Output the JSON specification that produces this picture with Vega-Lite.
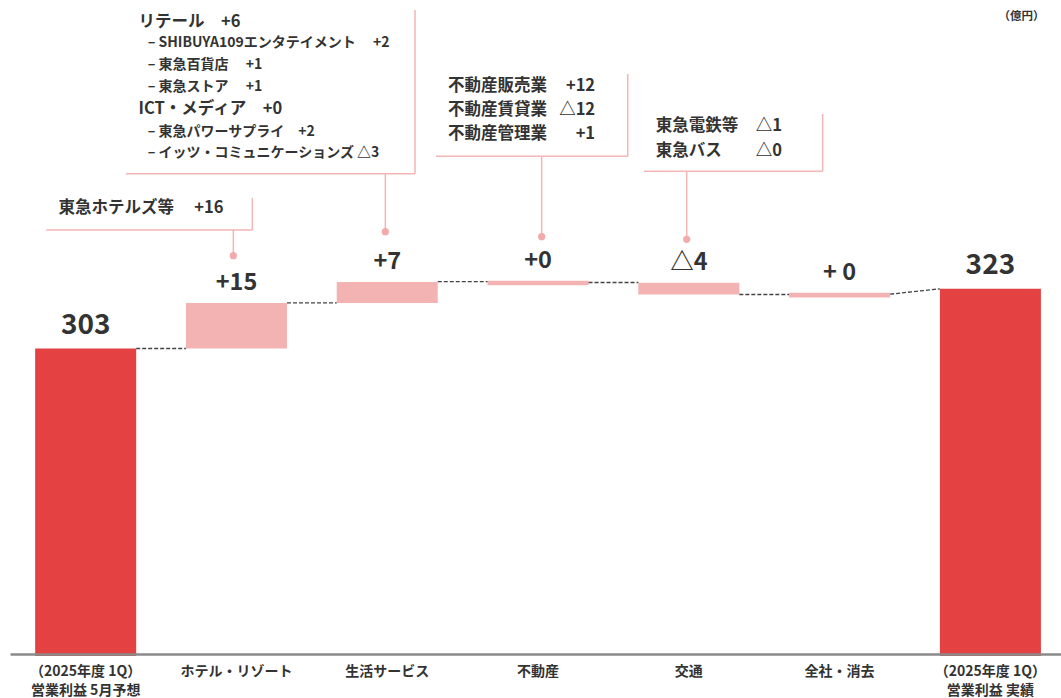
{
  "$schema": "https://vega.github.io/schema/vega-lite/v6.json",
  "width": 1051,
  "height": 656,
  "autosize": {"type": "none"},
  "padding": {"left": 10, "right": 0, "top": 0, "bottom": 42},
  "config": {
    "font": "Noto Sans CJK JP",
    "view": {"stroke": null},
    "text": {"font": "Noto Sans CJK JP", "fontWeight": "bold", "color": "#333333"}
  },
  "data": {
    "values": [
      {"cat": "（2025年度 1Q）\n営業利益 5月予想", "kind": "total", "low": 200, "high": 302.5, "label": "303"},
      {"cat": "ホテル・リゾート", "kind": "change", "low": 302.5, "high": 317.7, "label": "+15"},
      {"cat": "生活サービス", "kind": "change", "low": 317.7, "high": 324.7, "label": "+7"},
      {"cat": "不動産", "kind": "change", "low": 323.6, "high": 325.1, "label": "+0"},
      {"cat": "交通", "kind": "change", "low": 320.5, "high": 324.4, "label": "△4"},
      {"cat": "全社・消去", "kind": "change", "low": 319.5, "high": 321.1, "label": "+ 0"},
      {"cat": "（2025年度 1Q）\n営業利益 実績", "kind": "total", "low": 200, "high": 322.4, "label": "323"}
    ]
  },
  "layer": [
    {
      "mark": {"type": "bar"},
      "encoding": {
        "x": {
          "field": "cat", "type": "nominal", "sort": null,
          "scale": {
            "type": "band",
            "domain": ["（2025年度 1Q）\n営業利益 5月予想", "ホテル・リゾート", "生活サービス", "不動産", "交通", "全社・消去", "（2025年度 1Q）\n営業利益 実績"],
            "paddingInner": 0.33, "paddingOuter": 0.15, "align": 0.556
          },
          "axis": {
            "title": null, "labelAngle": 0, "ticks": false, "tickSize": 0,
            "domainColor": "#8a8a8a", "domainWidth": 2.5, "offset": -2, "zindex": 1,
            "labelFontSize": 14, "labelFontWeight": "bold", "labelColor": "#333333",
            "labelFont": "Noto Sans CJK JP", "labelPadding": 10, "labelLineHeight": 19.5,
            "labelExpr": "split(datum.label, '\\n')", "grid": false
          }
        },
        "y": {
          "field": "low", "type": "quantitative",
          "scale": {"domain": [200, 418.667], "nice": false, "zero": false},
          "axis": {
            "orient": "right", "title": "（億円）", "labels": false, "ticks": false, "domain": false, "grid": false,
            "titleAngle": 0, "titleX": -40, "titleY": 16, "titleAlign": "center", "titleBaseline": "middle",
            "titleFontSize": 11.5, "titleFontWeight": "bold", "titleColor": "#333333", "titleFont": "Noto Sans CJK JP"
          }
        },
        "y2": {"field": "high"},
        "color": {
          "field": "kind", "type": "nominal",
          "scale": {"domain": ["total", "change"], "range": ["#E34142", "#F3B3B3"]},
          "legend": null
        }
      }
    },
    {
      "data": {
        "values": [
          {"from": "（2025年度 1Q）\n営業利益 5月予想", "to": "ホテル・リゾート", "y": 302.5, "y2": 302.5},
          {"from": "ホテル・リゾート", "to": "生活サービス", "y": 317.7, "y2": 317.7},
          {"from": "生活サービス", "to": "不動産", "y": 324.8, "y2": 324.8},
          {"from": "不動産", "to": "交通", "y": 324.5, "y2": 324.5},
          {"from": "交通", "to": "全社・消去", "y": 320.5, "y2": 320.5},
          {"from": "全社・消去", "to": "（2025年度 1Q）\n営業利益 実績", "y": 320.6, "y2": 322.4}
        ]
      },
      "mark": {"type": "rule", "color": "#444444", "strokeWidth": 1.3, "strokeDash": [4, 2]},
      "encoding": {
        "x": {"field": "from", "type": "nominal", "bandPosition": 1},
        "x2": {"field": "to", "bandPosition": 0},
        "y": {"field": "y", "type": "quantitative"},
        "y2": {"field": "y2"}
      }
    },
    {
      "transform": [{"filter": "datum.kind === 'total'"}],
      "mark": {"type": "text", "fontSize": 28, "baseline": "alphabetic", "dy": -14.5, "align": "center"},
      "encoding": {
        "x": {"field": "cat", "type": "nominal"},
        "y": {"field": "high", "type": "quantitative"},
        "text": {"field": "label"}
      }
    },
    {
      "transform": [{"filter": "datum.kind === 'change'"}],
      "mark": {"type": "text", "fontSize": 23.5, "baseline": "alphabetic", "dy": -12.8, "align": "center"},
      "encoding": {
        "x": {"field": "cat", "type": "nominal"},
        "y": {"field": "high", "type": "quantitative"},
        "text": {"field": "label"}
      }
    },
    {
      "data": {"values": [{"t": "東急ホテルズ等　 +16"}]},
      "layer": [
        {"mark": {"type": "rule", "color": "#F4B5B5", "strokeWidth": 1.5},
         "encoding": {"x": {"datum": "ホテル・リゾート", "bandPosition": -1.382}, "x2": {"datum": "ホテル・リゾート", "bandPosition": 0.657}, "y": {"datum": 342.0}}},
        {"mark": {"type": "rule", "color": "#F4B5B5", "strokeWidth": 1.5},
         "encoding": {"x": {"datum": "ホテル・リゾート", "bandPosition": 0.657}, "y": {"datum": 342.0}, "y2": {"datum": 352.67}}},
        {"mark": {"type": "rule", "color": "#F4B5B5", "strokeWidth": 1.5},
         "encoding": {"x": {"datum": "ホテル・リゾート", "bandPosition": 0.469}, "y": {"datum": 342.0}, "y2": {"datum": 333.43}}},
        {"mark": {"type": "circle", "color": "#F2AAAA", "opacity": 1, "size": 52},
         "encoding": {"x": {"datum": "ホテル・リゾート", "bandPosition": 0.469}, "y": {"datum": 333.43}}},
        {"mark": {"type": "text", "fontSize": 16.5, "align": "left", "baseline": "middle"},
         "encoding": {"x": {"datum": "ホテル・リゾート", "bandPosition": -1.262}, "y": {"datum": 349.33}, "text": {"field": "t"}}}
      ]
    },
    {
      "data": {"values": [{"main1": "リテール　+6", "main2": "ICT・メディア　+0", "sub1": "– SHIBUYA109エンタテイメント　  +2\n– 東急百貨店　   +1\n– 東急ストア　   +1", "sub2": "– 東急パワーサプライ　+2\n– イッツ・コミュニケーションズ   △3"}]},
      "layer": [
        {"mark": {"type": "rule", "color": "#F4B5B5", "strokeWidth": 1.5},
         "encoding": {"x": {"datum": "生活サービス", "bandPosition": -2.086}, "x2": {"datum": "生活サービス", "bandPosition": 0.775}, "y": {"datum": 360.77}}},
        {"mark": {"type": "rule", "color": "#F4B5B5", "strokeWidth": 1.5},
         "encoding": {"x": {"datum": "生活サービス", "bandPosition": 0.775}, "y": {"datum": 360.77}, "y2": {"datum": 415.33}}},
        {"mark": {"type": "rule", "color": "#F4B5B5", "strokeWidth": 1.5},
         "encoding": {"x": {"datum": "生活サービス", "bandPosition": 0.481}, "y": {"datum": 360.77}, "y2": {"datum": 341.43}}},
        {"mark": {"type": "circle", "color": "#F2AAAA", "opacity": 1, "size": 52},
         "encoding": {"x": {"datum": "生活サービス", "bandPosition": 0.481}, "y": {"datum": 341.43}}},
        {"mark": {"type": "text", "fontSize": 16.5, "align": "left", "baseline": "middle"},
         "encoding": {"x": {"datum": "生活サービス", "bandPosition": -1.962}, "y": {"datum": 411.43}, "text": {"field": "main1"}}},
        {"mark": {"type": "text", "fontSize": 16.5, "align": "left", "baseline": "middle"},
         "encoding": {"x": {"datum": "生活サービス", "bandPosition": -1.962}, "y": {"datum": 382.33}, "text": {"field": "main2"}}},
        {"mark": {"type": "text", "fontSize": 14, "align": "left", "baseline": "middle", "lineBreak": "\n", "lineHeight": 21.8},
         "encoding": {"x": {"datum": "生活サービス", "bandPosition": -1.871}, "y": {"datum": 404.23}, "text": {"field": "sub1"}}},
        {"mark": {"type": "text", "fontSize": 14, "align": "left", "baseline": "middle", "lineBreak": "\n", "lineHeight": 21.6},
         "encoding": {"x": {"datum": "生活サービス", "bandPosition": -1.871}, "y": {"datum": 374.77}, "text": {"field": "sub2"}}}
      ]
    },
    {
      "data": {"values": [{"names": "不動産販売業\n不動産賃貸業\n不動産管理業", "vals": "+12\n△12\n+1"}]},
      "layer": [
        {"mark": {"type": "rule", "color": "#F4B5B5", "strokeWidth": 1.5},
         "encoding": {"x": {"datum": "不動産", "bandPosition": -0.51}, "x2": {"datum": "不動産", "bandPosition": 1.388}, "y": {"datum": 366.57}}},
        {"mark": {"type": "rule", "color": "#F4B5B5", "strokeWidth": 1.5},
         "encoding": {"x": {"datum": "不動産", "bandPosition": 1.388}, "y": {"datum": 366.57}, "y2": {"datum": 394.0}}},
        {"mark": {"type": "rule", "color": "#F4B5B5", "strokeWidth": 1.5},
         "encoding": {"x": {"datum": "不動産", "bandPosition": 0.536}, "y": {"datum": 366.57}, "y2": {"datum": 339.77}}},
        {"mark": {"type": "circle", "color": "#F2AAAA", "opacity": 1, "size": 52},
         "encoding": {"x": {"datum": "不動産", "bandPosition": 0.536}, "y": {"datum": 339.77}}},
        {"mark": {"type": "text", "fontSize": 16.5, "align": "left", "baseline": "middle", "lineBreak": "\n", "lineHeight": 24.15},
         "encoding": {"x": {"datum": "不動産", "bandPosition": -0.391}, "y": {"datum": 390.1}, "text": {"field": "names"}}},
        {"mark": {"type": "text", "fontSize": 16.5, "align": "right", "baseline": "middle", "lineBreak": "\n", "lineHeight": 24.15},
         "encoding": {"x": {"datum": "不動産", "bandPosition": 1.065}, "y": {"datum": 390.1}, "text": {"field": "vals"}}}
      ]
    },
    {
      "data": {"values": [{"names": "東急電鉄等\n東急バス", "vals": "△1\n△0"}]},
      "layer": [
        {"mark": {"type": "rule", "color": "#F4B5B5", "strokeWidth": 1.5},
         "encoding": {"x": {"datum": "交通", "bandPosition": 0.056}, "x2": {"datum": "交通", "bandPosition": 1.825}, "y": {"datum": 361.57}}},
        {"mark": {"type": "rule", "color": "#F4B5B5", "strokeWidth": 1.5},
         "encoding": {"x": {"datum": "交通", "bandPosition": 1.825}, "y": {"datum": 361.57}, "y2": {"datum": 380.67}}},
        {"mark": {"type": "rule", "color": "#F4B5B5", "strokeWidth": 1.5},
         "encoding": {"x": {"datum": "交通", "bandPosition": 0.479}, "y": {"datum": 361.57}, "y2": {"datum": 338.9}}},
        {"mark": {"type": "circle", "color": "#F2AAAA", "opacity": 1, "size": 52},
         "encoding": {"x": {"datum": "交通", "bandPosition": 0.479}, "y": {"datum": 338.9}}},
        {"mark": {"type": "text", "fontSize": 16.5, "align": "left", "baseline": "middle", "lineBreak": "\n", "lineHeight": 24.7},
         "encoding": {"x": {"datum": "交通", "bandPosition": 0.172}, "y": {"datum": 376.67}, "text": {"field": "names"}}},
        {"mark": {"type": "text", "fontSize": 16.5, "align": "right", "baseline": "middle", "lineBreak": "\n", "lineHeight": 24.7},
         "encoding": {"x": {"datum": "交通", "bandPosition": 1.423}, "y": {"datum": 376.67}, "text": {"field": "vals"}}}
      ]
    }
  ]
}
